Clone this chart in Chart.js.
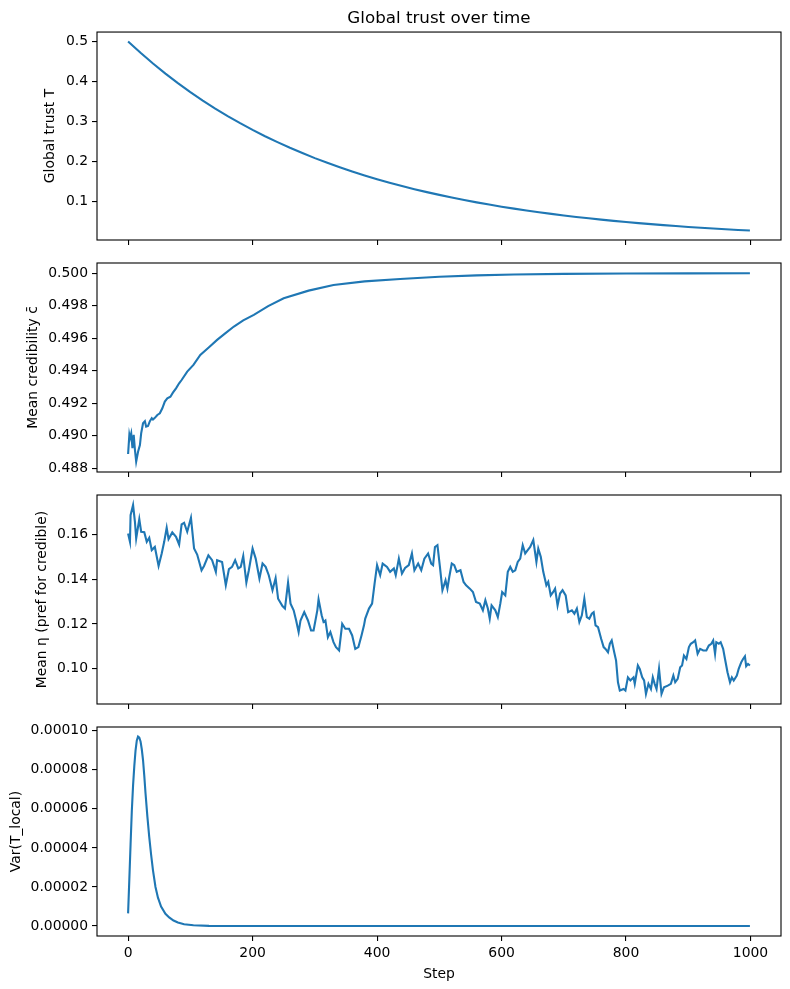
<!DOCTYPE html>
<html>
<head>
<meta charset="utf-8">
<script src="https://cdn.jsdelivr.net/npm/chart.js@4.4.1/dist/chart.umd.min.js"></script>
<style>
  html, body { margin: 0; padding: 0; background: #ffffff; }
  #wrap { position: relative; width: 790px; height: 989px; background: #ffffff; }
  canvas { position: absolute; left: 0; }
</style>
</head>
<body>
<div id="wrap">
  <canvas id="c1" width="790" height="250" style="top:0px"></canvas>
  <canvas id="c2" width="790" height="232" style="top:250px"></canvas>
  <canvas id="c3" width="790" height="232" style="top:482px"></canvas>
  <canvas id="c4" width="790" height="275" style="top:714px"></canvas>
</div>
<script>
// ---------------- data ----------------
const stepTicks = [0, 200, 400, 600, 800, 1000];

const trustSteps = [0,20,40,60,80,100,120,140,160,180,200,220,240,260,280,300,320,340,360,380,400,420,440,460,480,500,520,540,560,580,600,620,640,660,680,700,720,740,760,780,800,820,840,860,880,900,920,940,960,980,999];
const trustValues = [0.5,0.4717,0.4449,0.4197,0.3959,0.3734,0.3523,0.3323,0.3135,0.2957,0.2789,0.2631,0.2482,0.2341,0.2209,0.2083,0.1965,0.1854,0.1749,0.1650,0.1556,0.1468,0.1385,0.1306,0.1232,0.1163,0.1097,0.1035,0.0976,0.0921,0.0868,0.0819,0.0773,0.0729,0.0688,0.0649,0.0612,0.0577,0.0545,0.0514,0.0485,0.0457,0.0431,0.0407,0.0384,0.0362,0.0342,0.0322,0.0304,0.0287,0.0271];
const trustTicks = [0.1, 0.2, 0.3, 0.4, 0.5];

const credSteps = [0,2,3,5,7,9,11,13,16,19,21,24,27,29,32,35,38,40,43,47,51,55,59,63,68,72,77,82,86,95,105,116,130,143,156,170,185,202,225,250,290,330,380,437,500,560,620,700,800,900,999];
const credValues = [0.48888,0.49005,0.48985,0.49015,0.48923,0.49005,0.48913,0.48841,0.48902,0.48943,0.49015,0.49077,0.4909,0.49056,0.4906,0.4909,0.49108,0.491,0.4911,0.49128,0.49138,0.49169,0.4921,0.4923,0.4924,0.49265,0.49292,0.49323,0.49343,0.49395,0.49436,0.49497,0.49545,0.4959,0.4963,0.49672,0.4971,0.49744,0.49798,0.49846,0.49893,0.49928,0.4995,0.49965,0.49978,0.49987,0.49992,0.49996,0.49998,0.49999,0.5];
const credTicks = [0.488, 0.490, 0.492, 0.494, 0.496, 0.498, 0.500];

const etaSteps = [0,3,4,8,11,13,18,21,26,30,34,38,43,49,54,58,62,65,71,77,82,86,90,95,101,106,111,118,122,129,135,141,143,151,157,162,167,172,177,181,185,190,194,200,205,211,216,221,226,232,237,241,248,252,257,261,266,270,274,277,283,289,294,298,304,306,311,314,317,321,325,330,334,339,344,349,355,360,365,370,375,379,381,387,392,396,400,405,409,416,421,427,430,435,440,445,451,456,460,466,471,476,482,487,490,493,497,501,505,510,513,516,520,524,528,534,539,543,549,554,559,565,570,574,578,581,584,590,594,598,601,606,610,614,618,622,626,630,634,638,642,646,651,656,659,663,667,672,675,679,683,686,690,694,698,703,707,713,717,721,725,729,733,737,741,745,748,751,755,760,764,767,771,774,777,781,784,787,790,796,799,803,807,812,814,819,822,826,829,832,836,840,843,846,849,853,857,861,867,872,876,879,883,887,890,893,897,901,904,908,911,915,919,924,929,933,937,940,943,945,949,952,956,959,963,967,970,973,978,981,985,988,991,993,996,999];
const etaValues = [0.1604,0.1567,0.1686,0.1731,0.1656,0.1582,0.1668,0.1612,0.161,0.1567,0.1585,0.153,0.1544,0.1459,0.1515,0.1567,0.163,0.1579,0.1609,0.1589,0.1555,0.1645,0.1652,0.1612,0.1674,0.1537,0.151,0.144,0.1459,0.1507,0.1485,0.1433,0.1485,0.1477,0.1373,0.1445,0.1455,0.1485,0.1448,0.1455,0.1504,0.1385,0.144,0.1537,0.1492,0.1403,0.147,0.1455,0.1418,0.1351,0.1405,0.1313,0.128,0.1269,0.1385,0.1291,0.1261,0.1216,0.1164,0.1216,0.1253,0.1216,0.1171,0.1171,0.1261,0.131,0.1239,0.1209,0.1216,0.1141,0.1164,0.1119,0.1097,0.1082,0.1201,0.1179,0.1179,0.1149,0.1089,0.1097,0.1149,0.1194,0.1224,0.1269,0.1291,0.138,0.1463,0.1418,0.147,0.1455,0.1433,0.1448,0.1418,0.1492,0.1425,0.145,0.1463,0.1515,0.144,0.147,0.144,0.1492,0.1515,0.147,0.1463,0.1544,0.1552,0.1455,0.1351,0.1395,0.1358,0.141,0.147,0.1463,0.1433,0.144,0.1388,0.1373,0.1358,0.1343,0.1298,0.1291,0.1261,0.1306,0.1269,0.1224,0.1283,0.1261,0.1231,0.1291,0.1343,0.1328,0.1433,0.1455,0.1433,0.144,0.1477,0.1492,0.1552,0.1515,0.153,0.1544,0.1575,0.1477,0.1537,0.15,0.1433,0.1373,0.1388,0.1328,0.1343,0.1358,0.1283,0.1336,0.1351,0.1328,0.1253,0.1261,0.1246,0.1269,0.1209,0.1239,0.1313,0.1231,0.1224,0.1246,0.1253,0.1194,0.1186,0.1134,0.1097,0.1089,0.1074,0.1112,0.1127,0.1074,0.1037,0.094,0.0903,0.091,0.0903,0.0962,0.0948,0.0962,0.0933,0.1015,0.1,0.0962,0.0948,0.0888,0.0933,0.091,0.0962,0.0933,0.091,0.1,0.0888,0.0918,0.0925,0.0933,0.097,0.094,0.0955,0.1007,0.1015,0.1059,0.1044,0.1097,0.1112,0.1119,0.1127,0.1067,0.1089,0.1082,0.1082,0.1104,0.1112,0.1127,0.1067,0.1119,0.1112,0.1119,0.1089,0.1044,0.0985,0.094,0.0962,0.0948,0.097,0.1,0.1029,0.1044,0.1056,0.1012,0.1022,0.1015];
const etaTicks = [0.10, 0.12, 0.14, 0.16];

const varSteps = [0,2,4,6,8,10,12,14,16,18,20,22,24,26,28,31,34,37,40,44,48,53,60,66,73,80,90,105,130,160,200,300,400,500,600,700,800,900,999];
const varValues = [0.0000065,0.000024,0.000042,0.000059,0.000072,0.000082,0.000090,0.000095,0.000097,0.0000965,0.0000945,0.0000905,0.000085,0.000077,0.000068,0.000056,0.0000455,0.0000365,0.0000285,0.000020,0.0000145,0.000010,0.0000063,0.0000044,0.0000028,0.0000018,0.0000009,0.0000004,0.0000001,0,0,0,0,0,0,0,0,0,0];
const varTicks = [0, 0.00002, 0.00004, 0.00006, 0.00008, 0.00010];

// ---------------- chart setup ----------------
Chart.defaults.font.family = "'DejaVu Sans', sans-serif";
Chart.defaults.color = '#000000';

const LINE = '#1f77b4';
const FS = 13.9;

const framePlugin = {
  id: 'frame',
  afterDatasetsDraw(chart) {
    const a = chart.chartArea, ctx = chart.ctx;
    ctx.save();
    ctx.strokeStyle = '#000000';
    ctx.lineWidth = 1.1;
    ctx.strokeRect(a.left, a.top, a.right - a.left, a.bottom - a.top);
    ctx.restore();
  }
};

function pts(xs, ys) { return xs.map((x, i) => ({ x: x, y: ys[i] })); }

function makePanel(id, xs, ys, yTicks, dec, yMin, yMax, yTitle, yTitlePad, cfg) {
  const showX = !!cfg.showX;
  new Chart(document.getElementById(id), {
    type: 'line',
    data: { datasets: [{ data: pts(xs, ys), borderColor: LINE, borderWidth: 2.1, pointRadius: 0, tension: 0, fill: false }] },
    options: {
      responsive: false,
      animation: false,
      events: [],
      layout: { padding: { top: cfg.padTop, right: 9, bottom: 0, left: 0 } },
      plugins: {
        legend: { display: false },
        tooltip: { enabled: false },
        title: cfg.title ? {
          display: true, text: cfg.title, fullSize: false,
          font: { size: 16.7, weight: 'normal' }, color: '#000000',
          padding: { top: 9, bottom: 3 }
        } : { display: false }
      },
      scales: {
        x: {
          type: 'linear', min: -49.95, max: 1048.95,
          afterBuildTicks: s => { s.ticks = stepTicks.map(v => ({ value: v })); },
          afterFit: s => { s.height = cfg.xHeight; s.paddingLeft = 0; s.paddingRight = 0; },
          grid: { display: true, drawOnChartArea: false, drawTicks: true, tickLength: 5, color: '#000000', lineWidth: 1.1 },
          border: { display: false },
          ticks: { display: showX, padding: 4, font: { size: FS }, color: '#000000', maxRotation: 0, autoSkip: false,
                   callback: v => String(v) },
          title: showX ? { display: true, text: 'Step', font: { size: FS }, color: '#000000', padding: { top: 0, bottom: 6 } } : { display: false }
        },
        y: {
          type: 'linear', min: yMin, max: yMax,
          afterBuildTicks: s => { s.ticks = yTicks.map(v => ({ value: v })); },
          afterFit: s => { s.width = 97; s.paddingTop = 0; s.paddingBottom = 0; },
          grid: { display: true, drawOnChartArea: false, drawTicks: true, tickLength: 5, color: '#000000', lineWidth: 1.1 },
          border: { display: false },
          ticks: { padding: 4, font: { size: FS }, color: '#000000', autoSkip: false,
                   callback: v => Number(v).toFixed(dec) },
          title: { display: true, text: yTitle, font: { size: FS }, color: '#000000', padding: { top: yTitlePad, bottom: 0 } }
        }
      }
    },
    plugins: [framePlugin]
  });
}

makePanel('c1', trustSteps, trustValues, trustTicks, 1, 0.0035, 0.5236, 'Global trust T', 41.7,
          { padTop: 0, xHeight: 10, title: 'Global trust over time' });
makePanel('c2', credSteps, credValues, credTicks, 3, 0.48777, 0.50063, 'Mean credibility c\u0304', 24.7,
          { padTop: 13, xHeight: 10 });
makePanel('c3', etaSteps, etaValues, etaTicks, 2, 0.0843, 0.1776, 'Mean \u03b7 (pref for credible)', 33.6,
          { padTop: 13, xHeight: 10 });
makePanel('c4', varSteps, varValues, varTicks, 5, -0.0000051, 0.0001019, 'Var(T_local)', 7.7,
          { padTop: 13, xHeight: 53, showX: true });
</script>
</body>
</html>
